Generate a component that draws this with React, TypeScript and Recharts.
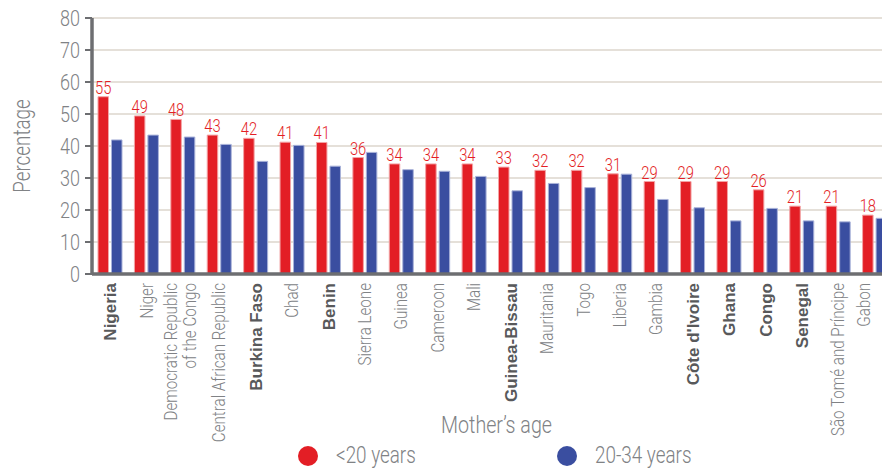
import React from "react"
import { BarChart, Bar, XAxis, YAxis, CartesianGrid, LabelList, Legend } from "recharts"

const countries = [
  "Nigeria", "Niger", "Democratic Republic\nof the Congo", "Central African Republic", "Burkina Faso",
  "Chad", "Benin", "Sierra Leone", "Guinea", "Cameroon", "Mali", "Guinea-Bissau", "Mauritania",
  "Togo", "Liberia", "Gambia", "Côte d'Ivoire", "Ghana", "Congo", "Senegal",
  "São Tomé and Príncipe", "Gabon",
]
const boldCountries = ["Nigeria", "Burkina Faso", "Benin", "Guinea-Bissau", "Côte d'Ivoire", "Ghana", "Congo", "Senegal"]
const under20 = [55.4, 49.4, 48.3, 43.4, 42.4, 41.2, 41.1, 36.4, 34.4, 34.4, 34.4, 33.4, 32.4, 32.4, 31.3, 28.9, 28.9, 28.9, 26.3, 21.2, 21.2, 18.4]
const age20to34 = [41.9, 43.4, 42.8, 40.5, 35.2, 40.2, 33.7, 38.0, 32.6, 32.1, 30.5, 26.0, 28.3, 27.0, 31.2, 23.3, 20.7, 16.6, 20.5, 16.6, 16.3, 17.4]
const seriesKeys = ["under20", "age20to34"]
const seriesNames = ["<20 years", "20-34 years"]
const yTicks = [0, 10, 20, 30, 40, 50, 60, 70, 80]
const boundaryTicks = countries.map((_, i) => i).concat(countries.length)

const data = countries.map((c, i) => ({ country: c, under20: under20[i], age20to34: age20to34[i] }))

const RED = "#e31e25"
const BLUE = "#3a4ea0"
const GRAY = "#808285"
const AXIS = "#6d6e71"
const GRID = "#dcd6cd"
// no condensed font installed, so squeeze a regular one horizontally
const LIGHT = "Roboto, 'Liberation Sans', sans-serif"
const WIDE = "'Liberation Sans', Arial, sans-serif"
const SQ = 0.82
const VISIBLE_W = 882

const CountryTick = (props: any) => {
  const { x, y, payload } = props
  const lines: string[] = String(payload.value).split("\n")
  const bold = boldCountries.includes(payload.value)
  // the last label is pulled in so it stays inside the visible area
  const tx = Math.min(x, VISIBLE_W - 18)
  return (
    <g transform={`translate(${tx},${y}) rotate(-90)`}>
      <text
        transform={bold ? undefined : `scale(${SQ},1)`}
        textAnchor="end"
        fontFamily={bold ? WIDE : LIGHT}
        fontWeight={bold ? 700 : 300}
        fontSize={bold ? 17 : 18.5}
        fill={bold ? "#58595b" : GRAY}
      >
        {lines.map((l, i) => (
          <tspan key={i} x={0} y={lines.length > 1 ? -6 + i * 18.5 : 6}>
            {l}
          </tspan>
        ))}
      </text>
    </g>
  )
}

const ValueTick = (props: any) => {
  const { x, y, payload } = props
  return (
    <g transform={`translate(${x},${y})`}>
      <text transform={`scale(${SQ},1)`} textAnchor="end" dy="0.36em" fontFamily={LIGHT} fontWeight={300} fontSize={22} fill={GRAY}>
        {payload.value}
      </text>
    </g>
  )
}

const BarValue = (props: any) => {
  const { x, y, width, value } = props
  return (
    <g transform={`translate(${x + width / 2},${y - 3})`}>
      <text transform={`scale(${SQ},1)`} textAnchor="middle" fontFamily={LIGHT} fontWeight={300} fontSize={18} fill={RED}>
        {Math.round(Number(value))}
      </text>
    </g>
  )
}

const YTitle = (props: any) => {
  const { viewBox } = props
  const cx = viewBox.x + 22
  const cy = viewBox.y + viewBox.height / 2
  return (
    <g transform={`translate(${cx},${cy}) rotate(-90) scale(${SQ},1)`}>
      <text textAnchor="middle" dy="0.36em" fontFamily={LIGHT} fontWeight={300} fontSize={23} fill={GRAY}>
        Percentage
      </text>
    </g>
  )
}

const XTitle = (props: any) => {
  const { viewBox } = props
  return (
    <g transform={`translate(${viewBox.x + viewBox.width / 2 + 4},${viewBox.y + 159}) scale(${SQ},1)`}>
      <text textAnchor="middle" fontFamily={LIGHT} fontWeight={300} fontSize={24} fill={GRAY}>
        Mother’s age
      </text>
    </g>
  )
}

const LegendContent = (props: any) => {
  const payload = [...(props.payload || [])].sort(
    (a: any, b: any) => seriesKeys.indexOf(a.dataKey) - seriesKeys.indexOf(b.dataKey)
  )
  return (
    <div style={{ display: "flex", alignItems: "center", height: 24, marginLeft: 298 }}>
      {payload.map((entry: any) => (
        <div key={entry.value} style={{ display: "flex", alignItems: "center", width: 259 }}>
          <span style={{ width: 20, height: 20, borderRadius: 10, background: entry.color, display: "inline-block" }} />
          <span
            style={{
              marginLeft: 18,
              fontFamily: LIGHT,
              fontWeight: 300,
              fontSize: 23,
              lineHeight: "24px",
              color: GRAY,
              display: "inline-block",
              transform: `scaleX(${SQ})`,
              transformOrigin: "left center",
              whiteSpace: "nowrap",
            }}
          >
            {entry.value}
          </span>
        </div>
      ))}
    </div>
  )
}

export default function App() {
  return (
    <div style={{ position: "absolute", left: 0, top: 0, width: VISIBLE_W, height: 470, overflow: "hidden", background: "#fff" }}>
      <BarChart
        width={900}
        height={470}
        data={data}
        margin={{ top: 18, right: 7, bottom: 0, left: 0 }}
        barSize={10.5}
        barGap={3}
      >
        <XAxis
          xAxisId="grid"
          type="number"
          domain={[0, countries.length]}
          ticks={boundaryTicks}
          tick={false}
          axisLine={false}
          tickLine={{ stroke: GRID, strokeWidth: 1.3 }}
          tickSize={16}
          height={0}
        />
        <CartesianGrid xAxisId="grid" stroke={GRID} strokeWidth={1.3} />
        <XAxis
          dataKey="country"
          interval={0}
          height={196}
          tick={<CountryTick />}
          tickLine={false}
          tickMargin={3}
          axisLine={{ stroke: AXIS, strokeWidth: 3.5 }}
          label={<XTitle />}
        />
        <YAxis
          width={92}
          domain={[0, 80]}
          ticks={yTicks}
          interval={0}
          tick={<ValueTick />}
          tickLine={{ stroke: AXIS, strokeWidth: 2 }}
          tickSize={7}
          tickMargin={5}
          axisLine={{ stroke: AXIS, strokeWidth: 3.5 }}
          label={<YTitle />}
        />
        <Legend
          layout="horizontal"
          verticalAlign="middle"
          align="center"
          content={<LegendContent />}
          wrapperStyle={{ position: "absolute", top: 444, left: 0, width: VISIBLE_W, height: 24 }}
        />
        <Bar dataKey={seriesKeys[0]} name={seriesNames[0]} fill={RED} stroke="#f3a3a5" strokeWidth={1} isAnimationActive={false}>
          <LabelList dataKey={seriesKeys[0]} content={<BarValue />} />
        </Bar>
        <Bar dataKey={seriesKeys[1]} name={seriesNames[1]} fill={BLUE} stroke="#a9b2d9" strokeWidth={1} isAnimationActive={false} />
      </BarChart>
    </div>
  )
}
